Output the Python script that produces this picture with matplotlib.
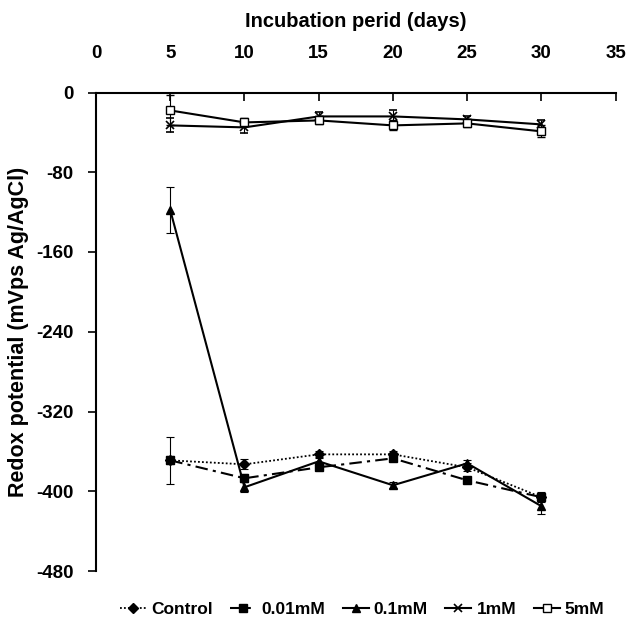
import matplotlib
matplotlib.use("Agg")
import matplotlib.pyplot as plt
from matplotlib.lines import Line2D

plt.rcParams["axes.unicode_minus"] = False

# Incubation days
days = [5, 10, 15, 20, 25, 30]

# Redox potential (mV vs Ag/AgCl) and standard errors per treatment
control = [-369, -373, -363, -363, -376, -406]
control_err = [4, 5, 3, 3, 4, 4]

mm001 = [-369, -387, -376, -367, -389, -406]
mm001_err = [23.5, 4, 3, 3, 3, 5]

mm01 = [-118, -396, -370, -394, -372, -415]
mm01_err = [23, 5, 3, 3, 3, 8]

mm1 = [-33, -35, -24, -24, -27, -32]
mm1_err = [7, 6, 4, 6, 3, 4]

mm5 = [-18, -30, -28, -33, -31, -39]
mm5_err = [15, 4, 4, 5, 4, 6]

x_ticks = [0, 5, 10, 15, 20, 25, 30, 35]
y_ticks = [0, -80, -160, -240, -320, -400, -480]

font = ["Liberation Sans", "DejaVu Sans"]

fig = plt.figure(figsize=(6.41, 6.26), dpi=100)
ax = fig.add_axes([96 / 641, 1 - 571 / 626, 519.7 / 641, 478.5 / 626])

err_kw = dict(ecolor="black", elinewidth=0.8, capsize=3, capthick=0.8)

series = [
    ("Control", control, control_err,
     dict(linestyle=(0, (1, 1.2)), lw=1.3, marker="D", markersize=5,
          markerfacecolor="black")),
    ("0.01mM", mm001, mm001_err,
     dict(linestyle=(0, (6, 2.5, 1.5, 2.5)), lw=1.5, marker="s", markersize=6,
          markerfacecolor="black")),
    ("0.1mM", mm01, mm01_err,
     dict(linestyle="-", lw=1.5, marker="^", markersize=6,
          markerfacecolor="black")),
    ("1mM", mm1, mm1_err,
     dict(linestyle="-", lw=1.5, marker="x", markersize=6,
          markeredgewidth=1.2)),
    ("5mM", mm5, mm5_err,
     dict(linestyle="-", lw=1.5, marker="s", markersize=6,
          markerfacecolor="white", markeredgewidth=1.0)),
]

handles = []
for name, vals, errs, style in series:
    ax.errorbar(days, vals, yerr=errs, color="black", **style, **err_kw)
    handles.append(Line2D([], [], color="black", label=name, **style))

ax.set_xlim(0, 35)
ax.set_ylim(-480, 0)

ax.spines["right"].set_visible(False)
ax.spines["bottom"].set_visible(False)
ax.spines["top"].set_linewidth(1.5)
ax.spines["left"].set_linewidth(1.5)

ax.xaxis.set_ticks_position("top")
ax.xaxis.set_label_position("top")
ax.set_xticks(x_ticks)
ax.set_yticks(y_ticks)
ax.tick_params(axis="x", direction="in", length=6, width=1.2, pad=22)
ax.tick_params(axis="y", direction="out", length=6, width=1.2, pad=10)

for lbl in ax.get_xticklabels() + ax.get_yticklabels():
    lbl.set_family(font)
    lbl.set_fontweight("bold")
    lbl.set_fontsize(13.5)

ax.set_xlabel("Incubation perid (days)", family=font, fontweight="bold",
              fontsize=14.5, labelpad=13)
ax.set_ylabel("Redox potential (mVps Ag/AgCl)", family=font, fontweight="bold",
              fontsize=15.5, labelpad=5)

fig.legend(handles=handles, loc="center", bbox_to_anchor=(0.565, 0.026),
           ncol=5, frameon=False, handlelength=1.5, handletextpad=0.3,
           columnspacing=1.0,
           prop={"family": font, "weight": "bold", "size": 12.5})

fig.savefig("out.png", dpi=100)
